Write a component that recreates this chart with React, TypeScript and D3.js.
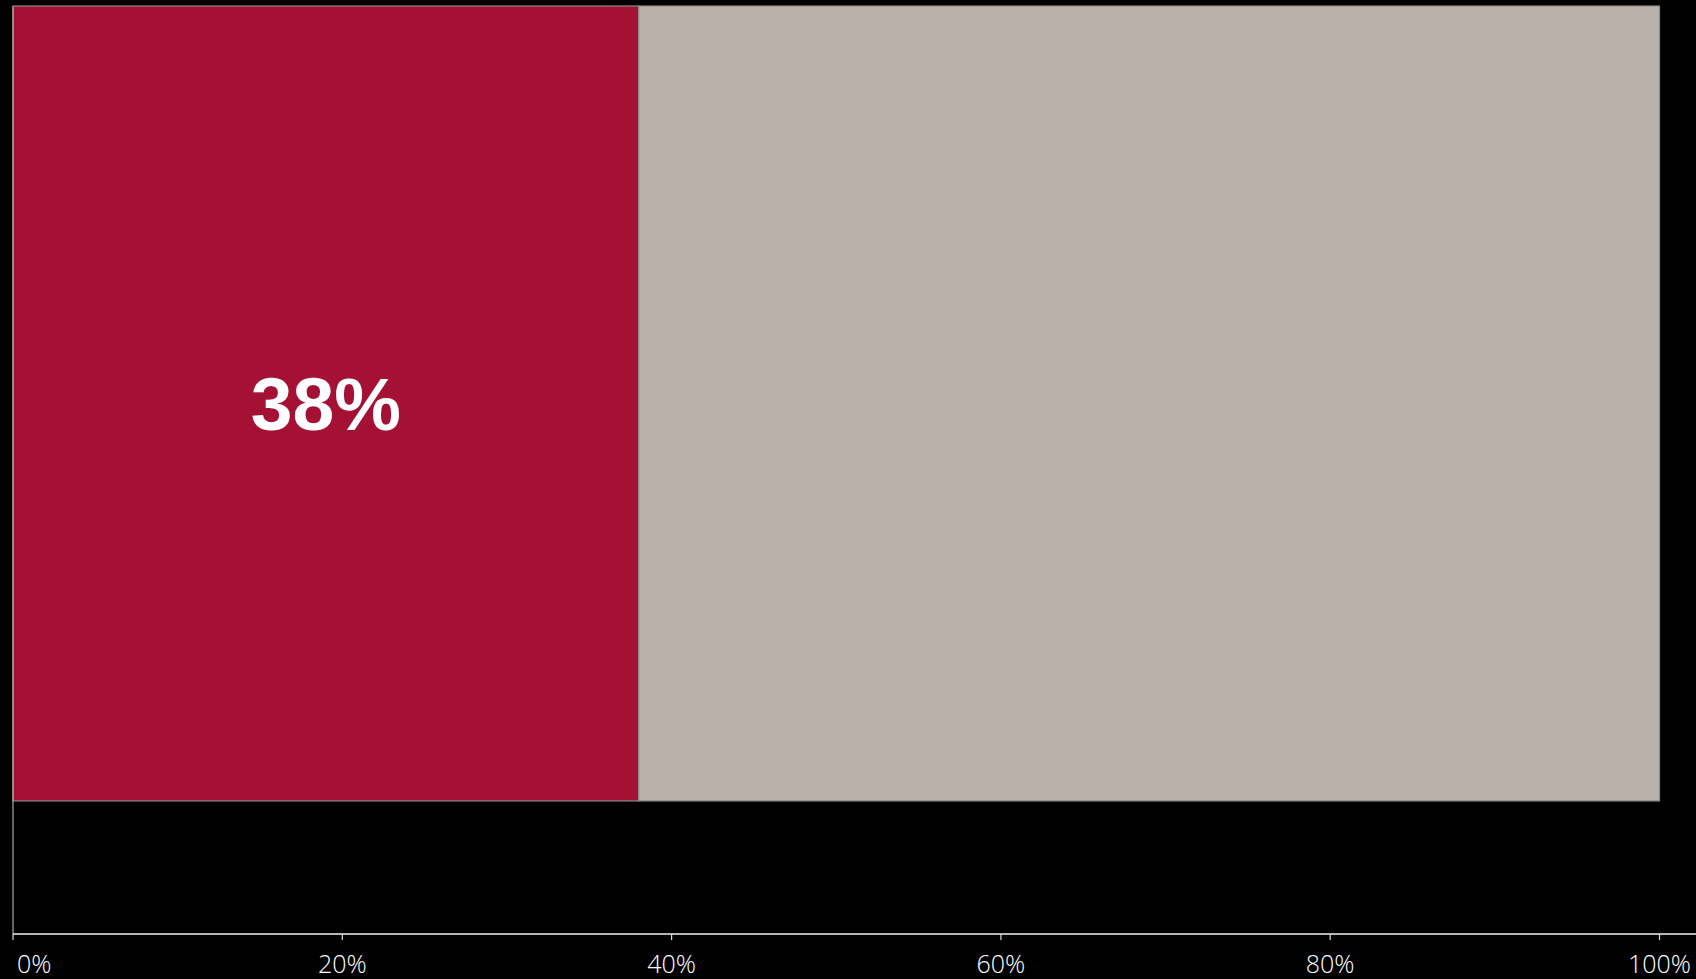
import React from "react";
import * as d3 from "d3";

const categories = ["Total"];
const seriesNames = ["Yes", "No"];
const yesValues = [38];
const noValues = [62];
const tickValues = [0, 20, 40, 60, 80, 100];
const tickLabels = ["0%", "20%", "40%", "60%", "80%", "100%"];
const colors = ["#A51134", "#BAB1AB"];

const W = 1696;
const H = 979;
const left = 13;
const right = 1659.5;
const top = 6;
const axisY = 934;

export default function App() {
  React.useEffect(() => {
    document.body.style.margin = "0";
    document.body.style.background = "#000";
  }, []);

  const x = d3.scaleLinear().domain([0, 100]).range([left, right]);
  const y = d3
    .scaleBand<string>()
    .domain(categories)
    .range([top, axisY])
    .paddingInner(0)
    .paddingOuter(0.0837)
    .align(0);

  const rows = categories.map((c, i) => ({ cat: c, vals: [yesValues[i], noValues[i]] }));
  const stack = d3.stack<any>().keys([0, 1] as any).value((d: any, k: any) => d.vals[k]);
  const stacked = stack(rows as any);

  return (
    <svg width={W} height={H} style={{ display: "block", background: "#000" }}>
      <rect x={0} y={0} width={W} height={H} fill="#000" />
      {stacked.map((layer, si) =>
        layer.map((d, i) => (
          <rect
            key={`${si}-${i}`}
            x={x(d[0])}
            y={y(rows[i].cat)!}
            width={x(d[1]) - x(d[0])}
            height={y.bandwidth()}
            fill={colors[si]}
            stroke="#8a8a8a"
            strokeWidth={1.2}
          >
            <title>{seriesNames[si]}</title>
          </rect>
        ))
      )}
      {stacked[0].map((d, i) => (
        <text
          key={`lab-${i}`}
          x={(x(d[0]) + x(d[1])) / 2}
          y={y(rows[i].cat)! + y.bandwidth() / 2}
          dy="0.36em"
          textAnchor="middle"
          fill="#fff"
          fontFamily="'Liberation Sans', Arial, sans-serif"
          fontWeight="bold"
          fontSize={75}
        >
          {`${yesValues[i]}%`}
        </text>
      ))}
      <line x1={left} x2={left} y1={top} y2={axisY} stroke="#a8a8a8" strokeWidth={1.2} />
      <line x1={left} x2={W} y1={axisY} y2={axisY} stroke="#f2f2f2" strokeWidth={1.5} />
      {tickValues.map((t, i) => (
        <g key={t}>
          <line x1={x(t)} x2={x(t)} y1={axisY} y2={axisY + 6} stroke="#d8d8d8" strokeWidth={1.2} />
          <text
            x={i === 0 ? x(t) + 4 : x(t)}
            y={973}
            textAnchor={i === 0 ? "start" : "middle"}
            fill="#ffffff"
            fontFamily="'Open Sans', 'Noto Sans', sans-serif"
            fontWeight={300}
            fontSize={25}
          >
            {tickLabels[i]}
          </text>
        </g>
      ))}
    </svg>
  );
}
